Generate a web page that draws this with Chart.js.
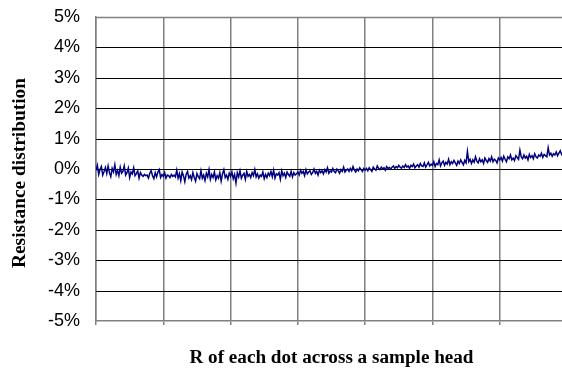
<!DOCTYPE html>
<html>
<head>
<meta charset="utf-8">
<script src="https://cdn.jsdelivr.net/npm/chart.js@4/dist/chart.umd.min.js"></script>
<style>
  html, body { margin: 0; padding: 0; background: #fff; overflow: hidden; }
  #wrap { position: absolute; left: 0; top: 0; width: 575px; height: 369px; }
</style>
</head>
<body>
<div id="wrap"><canvas id="c"></canvas></div>
<script>
// Relative resistance deviation (%) of each dot along the head
const resistancePct = [
  -0.05, 0.12, -0.18, -0.02, 0.08, -0.20, -0.08, 0.05, -0.15, 0.10,
  -0.12, -0.25, 0.02, -0.10, 0.14, -0.18, -0.05, -0.22, 0.06, -0.14,
  -0.08, 0.10, -0.20, -0.12, 0.03, -0.28, -0.10, -0.16, 0.04, -0.22,
  -0.15, -0.06, -0.30, -0.12, -0.20, -0.24, -0.18, -0.22, -0.20, -0.30,
  -0.14, -0.05, -0.22, -0.32, -0.12, -0.26, -0.10, -0.02, -0.28, -0.18,

  -0.25, -0.12, -0.30, -0.20, -0.22, -0.28, -0.18, -0.24, -0.20, -0.26,
  -0.04, -0.30, -0.15, -0.38, -0.10, -0.22, -0.42, -0.18, -0.08, -0.30,
  -0.22, -0.35, -0.12, -0.28, -0.40, -0.15, -0.25, -0.32, -0.06, -0.30,
  -0.20, -0.38, -0.14, -0.26, -0.02, -0.34, -0.18, -0.28, -0.10, -0.36,
  -0.22, -0.30, -0.12, -0.40, -0.16, -0.02, -0.28, -0.20, -0.34, -0.14,

  -0.24, -0.10, -0.32, -0.18, -0.46, -0.12, -0.26, -0.06, -0.30, -0.20,
  -0.14, -0.34, -0.08, -0.24, -0.18, -0.28, -0.12, -0.22, -0.02, -0.26,
  -0.16, -0.30, -0.20, -0.24, -0.10, -0.32, -0.18, -0.28, -0.14, -0.22,
  -0.08, -0.26, -0.04, -0.30, -0.16, -0.20, -0.12, -0.34, -0.06, -0.22,
  -0.14, -0.28, -0.10, -0.18, -0.24, -0.08, -0.26, -0.12, -0.20, -0.16,

  -0.10, -0.20, -0.04, -0.14, -0.08, -0.22, -0.02, -0.16, -0.10, -0.06,
  -0.18, -0.12, 0.00, -0.14, -0.08, -0.20, -0.04, -0.12, -0.06, -0.16,
  -0.02, -0.10, 0.04, -0.14, -0.06, -0.10, 0.02, -0.08, -0.12, 0.00,
  -0.06, -0.14, -0.02, -0.08, 0.06, -0.10, -0.04, 0.00, -0.08, 0.02,
  -0.06, 0.08, -0.04, -0.10, 0.00, -0.06, 0.04, -0.02, -0.08, 0.02,

  -0.04, 0.02, -0.06, 0.04, -0.02, -0.08, 0.06, 0.00, -0.04, 0.10,
  0.02, -0.02, 0.06, 0.00, 0.04, -0.04, 0.08, 0.02, 0.05, 0.00,
  0.06, 0.10, 0.02, 0.08, 0.04, 0.12, 0.06, 0.03, 0.10, 0.05,
  0.14, 0.06, 0.10, 0.02, 0.12, 0.08, 0.16, 0.04, 0.10, 0.14,
  0.06, 0.18, 0.10, 0.08, 0.20, 0.06, 0.14, 0.22, 0.10, 0.16,

  0.12, 0.24, 0.08, 0.18, 0.14, 0.30, 0.10, 0.20, 0.26, 0.12,
  0.22, 0.16, 0.32, 0.14, 0.24, 0.18, 0.28, 0.20, 0.12, 0.26,
  0.18, 0.30, 0.22, 0.14, 0.28, 0.20, 0.58, 0.24, 0.32, 0.18,
  0.30, 0.22, 0.40, 0.26, 0.20, 0.34, 0.24, 0.30, 0.18, 0.36,
  0.28, 0.22, 0.34, 0.26, 0.40, 0.24, 0.32, 0.28, 0.20, 0.36,

  0.30, 0.38, 0.26, 0.42, 0.32, 0.24, 0.40, 0.34, 0.46, 0.30,
  0.36, 0.28, 0.44, 0.38, 0.32, 0.62, 0.40, 0.34, 0.46, 0.36,
  0.42, 0.30, 0.48, 0.38, 0.44, 0.34, 0.50, 0.40, 0.36, 0.46,
  0.42, 0.52, 0.38, 0.48, 0.44, 0.40, 0.70, 0.46, 0.52, 0.42,
  0.50, 0.46, 0.56, 0.44, 0.52, 0.60, 0.48, 0.54, 0.50, 0.58
];

// Dot position along the head (index)
const dotIndex = resistancePct.map((_, i) => i);

const yTitle = 'Resistance distribution';
const xTitle = 'R of each dot across a sample head';

const GRAY = '#808080';

// Horizontal grid: black inner lines, grey top edge, placed from the y scale ticks
const horizontalGrid = {
  id: 'horizontalGrid',
  beforeDatasetsDraw(chart) {
    const ctx = chart.ctx;
    const a = chart.chartArea;
    const ys = chart.scales.y;
    ctx.save();
    ys.ticks.forEach(t => {
      if (t.value === ys.min) return;
      const y = Math.round(ys.getPixelForValue(t.value)) + 0.5;
      ctx.beginPath();
      ctx.strokeStyle = t.value === ys.max ? GRAY : '#000000';
      ctx.lineWidth = t.value === ys.max ? 1.5 : 1;
      ctx.moveTo(a.left, y);
      ctx.lineTo(a.right, y);
      ctx.stroke();
    });
    ctx.restore();
  }
};

// Axis titles in wide bold serif, stretched to their span along the axis
function drawSpanText(ctx, text, x, y, angle, span) {
  ctx.save();
  ctx.translate(x, y);
  ctx.rotate(angle);
  const w = ctx.measureText(text).width;
  ctx.scale(span / w, 1);
  ctx.fillText(text, 0, 0);
  ctx.restore();
}

const axisTitles = {
  id: 'axisTitles',
  afterDraw(chart) {
    const ctx = chart.ctx;
    const a = chart.chartArea;
    ctx.save();
    ctx.fillStyle = '#000';
    ctx.font = 'bold 18px "Liberation Serif", "Times New Roman", serif';
    ctx.textAlign = 'center';
    ctx.textBaseline = 'middle';
    drawSpanText(ctx, xTitle, (a.left + a.right) / 2, 358, 0, 284);
    drawSpanText(ctx, yTitle, 20, 173, -Math.PI / 2, 190);
    ctx.restore();
  }
};

const canvas = document.getElementById('c');
canvas.getContext('2d', { willReadFrequently: true });

new Chart(canvas, {
  type: 'line',
  data: {
    datasets: [{
      data: dotIndex.map((x, i) => ({ x: x, y: resistancePct[i] })),
      borderColor: '#000080',
      borderWidth: 1.5,
      pointRadius: 0,
      tension: 0,
      fill: false
    }]
  },
  options: {
    responsive: true,
    maintainAspectRatio: false,
    animation: false,
    layout: { padding: { left: 0, top: 17, right: 8, bottom: 0 } },
    plugins: { legend: { display: false }, tooltip: { enabled: false } },
    scales: {
      x: {
        type: 'linear',
        min: 0,
        max: 350,
        ticks: { display: false, stepSize: 50 },
        grid: { color: GRAY, lineWidth: 1.5, drawTicks: true, tickLength: 4 },
        border: { color: GRAY, width: 1.5 },
        afterFit(s) { s.height = 48; }
      },
      y: {
        type: 'linear',
        min: -5,
        max: 5,
        ticks: {
          stepSize: 1,
          callback: v => v + '%',
          color: '#000',
          padding: 0,
          font: { family: '"Liberation Sans", Arial, sans-serif', size: 18 }
        },
        grid: {
          drawOnChartArea: false,
          drawTicks: true,
          tickLength: 16,
          tickColor: 'rgba(0,0,0,0)'
        },
        border: { display: true, color: GRAY, width: 1.5 },
        afterFit(s) { s.width = 96; }
      }
    }
  },
  plugins: [horizontalGrid, axisTitles]
});
</script>
</body>
</html>
